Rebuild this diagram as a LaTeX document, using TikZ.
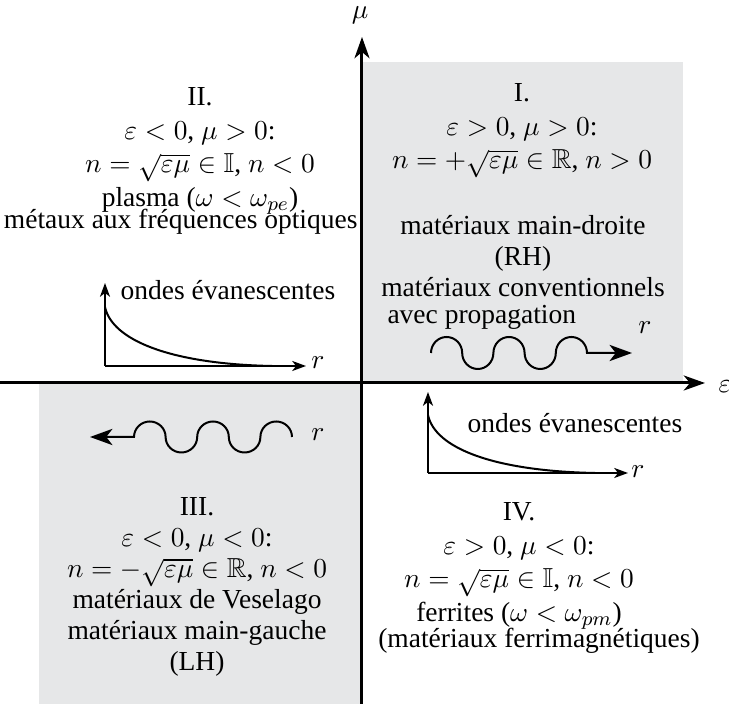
\documentclass[tikz,border=0pt]{standalone}
\usepackage{amsmath,amssymb}
\usepackage{fontspec}
\setmainfont{Liberation Serif}
\usepackage{tikz}
\usetikzlibrary{arrows.meta,positioning}
\definecolor{grisZone}{RGB}{230,231,232}
\tikzset{
  zone/.style={fill=grisZone, draw=none},
  texte/.style={align=center, inner sep=0pt, font=\fontsize{11}{12.4}\selectfont},
  axe/.style={-{Stealth[length=8.5pt,width=6pt,inset=2.5pt]}, line width=1.2pt},
  petitaxe/.style={-{Stealth[length=5.5pt,width=4pt,inset=1.5pt]}, line width=0.8pt},
  onde/.style={-{Stealth[length=9pt,width=6.5pt,inset=2.5pt]}, line width=0.8pt},
  courbe/.style={line width=0.8pt},
}
\begin{document}
\begin{tikzpicture}[x=0.4pt, y=-0.4pt]
  \useasboundingbox (0,0) rectangle (729,704);
  % zones grises (quadrants I et III)
  \fill[zone] (362,62) rectangle (683,383);
  \fill[zone] (39,383) rectangle (362,704);

  % axes epsilon / mu
  \coordinate (ouest) at (0,383);
  \coordinate (est) at (705,383);
  \coordinate (sud) at (362,704);
  \coordinate (nord) at (362,37);
  \draw[axe] (ouest) -- (est);
  \draw[axe] (sud) -- (nord);
  \node[texte, anchor=west] (eps) at (718,387) {$\varepsilon$};
  \node[texte] (mu) at (360,15) {$\mu$};

  % quadrant II
  \node[texte] (q2) at (200,151) {II.\\[1pt] $\varepsilon<0$, $\mu>0$:\\[1pt] $n=\sqrt{\varepsilon\mu}\in\mathbb{I}$, $n<0$\\[1pt] plasma ($\omega<\omega_{pe}$)};
  \node[texte, anchor=east] (q2b) at (358,222) {métaux aux fréquences optiques};
  \node[texte] (ev2) at (228,290) {ondes évanescentes};
  \coordinate (o2) at (105,366);
  \coordinate (o2y) at (105,283);
  \coordinate (o2x) at (306,366);
  \draw[petitaxe] (o2) -- (o2y);
  \draw[petitaxe] (o2) -- (o2x);
  \draw[courbe] (105,307) .. controls (112,340) and (170,364) .. (272,366);
  \node[texte] (r2) at (318,363) {$r$};

  % quadrant I
  \node[texte] (q1) at (522,131) {I.\\[1pt] $\varepsilon>0$, $\mu>0$:\\[1pt] $n=+\sqrt{\varepsilon\mu}\in\mathbb{R}$, $n>0$};
  \node[texte] (q1b) at (523,256) {matériaux main-droite\\ (RH)\\ matériaux conventionnels};
  \node[texte, anchor=west] (q1c) at (387,317) {avec propagation};
  \draw[onde] (431,353) arc[start angle=180, end angle=360, x radius=15.6, y radius=16]
    arc[start angle=180, end angle=0, x radius=15.6, y radius=16]
    arc[start angle=180, end angle=360, x radius=15.6, y radius=16]
    arc[start angle=180, end angle=0, x radius=15.6, y radius=16]
    arc[start angle=180, end angle=360, x radius=15.6, y radius=16]
    -- (632,353);
  \node[texte] (r1) at (645,328) {$r$};

  % quadrant III
  \draw[onde] (292,437) arc[start angle=0, end angle=-180, x radius=15.8, y radius=15.5]
    arc[start angle=0, end angle=180, x radius=15.8, y radius=15.5]
    arc[start angle=0, end angle=-180, x radius=15.8, y radius=15.5]
    arc[start angle=0, end angle=180, x radius=15.8, y radius=15.5]
    arc[start angle=0, end angle=-180, x radius=15.8, y radius=15.5]
    -- (90,437);
  \node[texte] (r3) at (318,435) {$r$};
  \node[texte] (q3) at (197,587) {III.\\ $\varepsilon<0$, $\mu<0$:\\ $n=-\sqrt{\varepsilon\mu}\in\mathbb{R}$, $n<0$\\ matériaux de Veselago\\ matériaux main-gauche\\ (LH)};

  % quadrant IV
  \node[texte] (ev4) at (575,423) {ondes évanescentes};
  \coordinate (o4) at (428,473);
  \coordinate (o4y) at (428,392);
  \coordinate (o4x) at (628,473);
  \draw[petitaxe] (o4) -- (o4y);
  \draw[petitaxe] (o4) -- (o4x);
  \draw[courbe] (428,415) .. controls (435,448) and (493,471) .. (595,473);
  \node[texte] (r4) at (638,472) {$r$};
  \node[texte] (q4) at (519,566) {IV.\\[1pt] $\varepsilon>0$, $\mu<0$:\\[1pt] $n=\sqrt{\varepsilon\mu}\in\mathbb{I}$, $n<0$\\[1pt] ferrites ($\omega<\omega_{pm}$)};
  \node[texte] (q4b) at (539,641) {(matériaux ferrimagnétiques)};
\end{tikzpicture}
\end{document}
